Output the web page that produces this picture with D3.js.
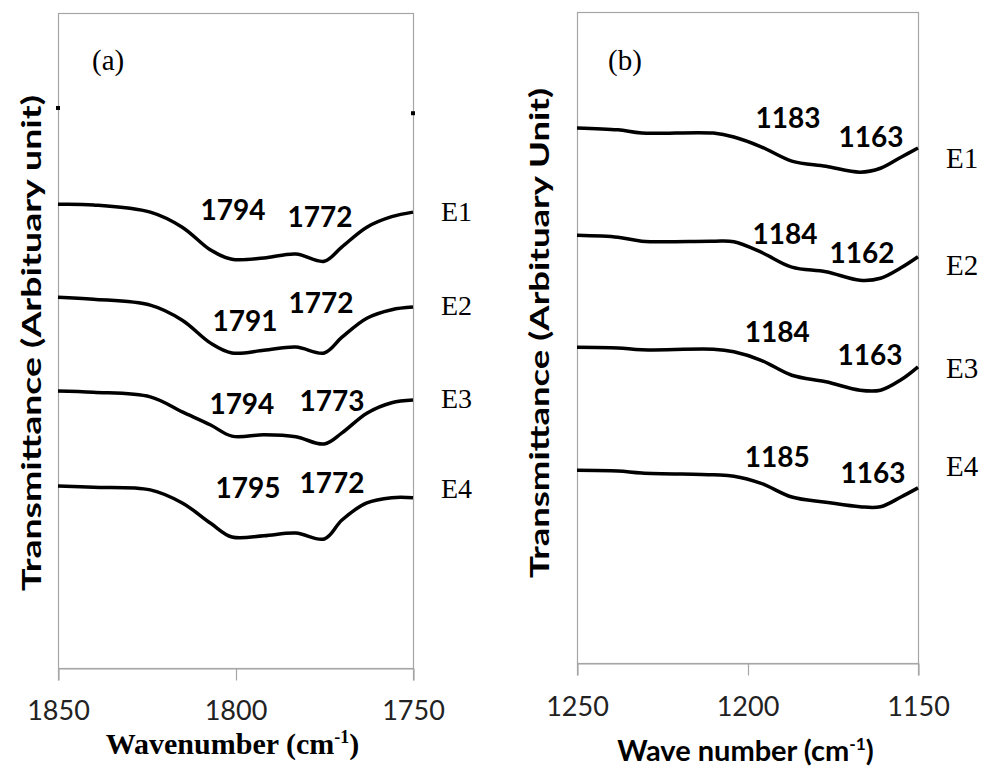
<!DOCTYPE html>
<html>
<head>
<meta charset="utf-8">
<script src="https://cdn.jsdelivr.net/npm/d3@7"></script>
<style>
    body { margin: 0; background: #ffffff; }
</style>
</head>
<body>
<svg id="chart" width="984" height="769"></svg>
<script>
// ---- panel (a): C=O region ----
const wavenumbersA = [1850, 1840, 1824, 1815, 1807, 1801, 1792, 1783, 1775, 1770, 1763, 1756, 1750];
const e1A = [70.8, 70.7, 69.6, 67.3, 63.8, 62.4, 62.6, 63.2, 62.1, 64.3, 67.3, 68.9, 69.6];
const e2A = [56.6, 56.3, 55.4, 53.1, 49.6, 48.1, 48.5, 49.0, 48.1, 50.5, 53.4, 54.7, 55.1];
const e3A = [42.3, 42.1, 41.4, 39.1, 37.1, 35.4, 35.6, 35.3, 34.2, 35.9, 38.9, 40.5, 40.9];
const e4A = [27.8, 27.6, 27.2, 25.2, 22.1, 20.0, 20.2, 20.6, 19.7, 22.6, 25.2, 26.0, 26.0];
const ticksA = [1850, 1800, 1750];
// [label, wavenumber, transmittance]
const peaksA = [
    ["1794", 1800.7, 68.4], ["1772", 1776.2, 67.3],
    ["1791", 1797.3, 51.5], ["1772", 1775.9, 54.2],
    ["1794", 1798.2, 38.8], ["1773", 1772.8, 39.2],
    ["1795", 1796.5, 26.0], ["1772", 1772.8, 26.7]
];
const seriesLevelsA = [68.2, 53.9, 39.7, 26.0];
const endMarksA = [[1850, 85.5], [1750, 84.7]];

// ---- panel (b): C-O region ----
const wavenumbersB = [1250, 1238, 1231, 1210, 1204, 1196, 1187, 1177, 1167, 1161, 1155, 1150];
const e1B = [82.2, 81.9, 81.4, 81.4, 80.8, 79.3, 77.1, 76.3, 75.4, 76.0, 77.7, 79.1];
const e2B = [65.7, 65.4, 64.8, 64.8, 64.7, 63.1, 60.8, 60.1, 58.8, 59.1, 60.7, 62.4];
const e3B = [48.5, 48.4, 48.1, 48.2, 47.8, 46.5, 44.2, 43.2, 41.9, 41.9, 43.5, 45.5];
const e4B = [29.6, 29.5, 29.2, 28.9, 28.7, 27.6, 25.5, 24.7, 24.0, 24.0, 25.5, 26.9];
const ticksB = [1250, 1200, 1150];
const peaksB = [
    ["1183", 1188.1, 82.2], ["1163", 1163.8, 79.3],
    ["1184", 1189.0, 64.4], ["1162", 1166.4, 61.4],
    ["1184", 1191.3, 49.3], ["1163", 1164.1, 45.8],
    ["1185", 1191.3, 30.1], ["1163", 1163.2, 27.6]
];
const seriesLevelsB = [76.0, 59.6, 43.8, 28.7];

const seriesNames = ["E1", "E2", "E3", "E4"];

const svg = d3.select("#chart");
svg.append("rect").attr("width", 984).attr("height", 769).attr("fill", "#ffffff");

const frameColor = "#a6a6a6";

const drawPanel = (panel) => {
    const x = d3.scaleLinear().domain(panel.xDomain).range([panel.left, panel.right]);
    const y = d3.scaleLinear().domain([0, 100]).range([panel.bottom, panel.top]);
    const g = svg.append("g");

    g.append("rect")
        .attr("x", panel.left + 0.5)
        .attr("y", panel.top + 0.5)
        .attr("width", panel.right - panel.left)
        .attr("height", panel.bottom - panel.top)
        .attr("fill", "none")
        .attr("stroke", frameColor)
        .attr("stroke-width", 1.2);

    const axis = g.append("g")
        .attr("transform", "translate(0," + (panel.bottom + 0.5) + ")")
        .call(d3.axisBottom(x)
            .tickValues(panel.ticks)
            .tickSize(12)
            .tickPadding(panel.tickPadding)
            .tickFormat(d3.format("d")));
    axis.select(".domain").attr("stroke", frameColor).attr("stroke-width", 1.2);
    axis.selectAll(".tick line").attr("stroke", frameColor).attr("stroke-width", 1.2)
        .attr("transform", "translate(0.5,0)");
    axis.selectAll(".tick text")
        .attr("fill", "#222")
        .style("font-family", "Lato")
        .style("font-size", "27px");

    const line = d3.line()
        .x((d, i) => x(panel.wavenumbers[i]))
        .y(d => y(d))
        .curve(d3.curveCatmullRom.alpha(0.5));

    g.selectAll("path.curve")
        .data(panel.series)
        .enter()
        .append("path")
        .attr("class", "curve")
        .attr("d", line)
        .attr("fill", "none")
        .attr("stroke", "#000")
        .attr("stroke-width", 3.5)
        .attr("stroke-linejoin", "round");

    g.selectAll("text.peak")
        .data(panel.peaks)
        .enter()
        .append("text")
        .attr("class", "peak")
        .attr("x", d => x(d[1]))
        .attr("y", d => y(d[2]))
        .attr("text-anchor", "middle")
        .style("font-family", "Lato")
        .style("font-weight", "bold")
        .style("font-size", "28px")
        .text(d => d[0]);

    g.selectAll("text.series")
        .data(panel.seriesLevels)
        .enter()
        .append("text")
        .attr("class", "series")
        .attr("x", panel.right + panel.seriesOffset)
        .attr("y", d => y(d))
        .style("font-family", "Liberation Serif")
        .style("font-size", panel.seriesFont)
        .text((d, i) => seriesNames[i]);

    g.selectAll("rect.mark")
        .data(panel.marks || [])
        .enter()
        .append("rect")
        .attr("class", "mark")
        .attr("x", d => x(d[0]) - 2)
        .attr("y", d => y(d[1]) - 2)
        .attr("width", 4)
        .attr("height", 4)
        .attr("fill", "#000");

    g.append("text")
        .attr("x", panel.left + panel.tagOffset)
        .attr("y", panel.tagY)
        .style("font-family", "Liberation Serif")
        .style("font-size", "29px")
        .text(panel.tag);

    g.append("text")
        .attr("transform", "translate(" + panel.yTitleX + "," + panel.yTitleY + ") rotate(-90)")
        .attr("text-anchor", "middle")
        .attr("textLength", panel.yTitleLength)
        .attr("lengthAdjust", "spacingAndGlyphs")
        .style("font-family", "Lato")
        .style("font-weight", "bold")
        .style("font-size", panel.yTitleFont)
        .text(panel.yTitle);

    const xTitle = g.append("text")
        .attr("x", (panel.left + panel.right) / 2 + panel.xTitleShift)
        .attr("y", panel.xTitleY)
        .attr("text-anchor", "middle")
        .style("font-family", panel.xTitleFamily)
        .style("font-weight", "bold")
        .style("font-size", panel.xTitleFont);
    xTitle.append("tspan").text(panel.xTitle + " (cm");
    xTitle.append("tspan").attr("dy", -11).style("font-size", "0.6em").text("-1");
    xTitle.append("tspan").attr("dy", 11).text(")");
};

drawPanel({
    left: 58, right: 413, top: 13, bottom: 668,
    xDomain: [1850, 1750],
    ticks: ticksA,
    tickPadding: 20,
    wavenumbers: wavenumbersA,
    series: [e1A, e2A, e3A, e4A],
    peaks: peaksA,
    seriesLevels: seriesLevelsA,
    seriesOffset: 28,
    seriesFont: "28px",
    marks: endMarksA,
    tag: "(a)", tagOffset: 34, tagY: 70,
    yTitle: "Transmittance (Arbituary unit)",
    yTitleX: 41, yTitleY: 343, yTitleLength: 496, yTitleFont: "27px",
    xTitle: "Wavenumber", xTitleFamily: "Liberation Serif", xTitleFont: "30px",
    xTitleShift: -3, xTitleY: 754
});

drawPanel({
    left: 577, right: 918, top: 12, bottom: 663,
    xDomain: [1250, 1150],
    ticks: ticksB,
    tickPadding: 21,
    wavenumbers: wavenumbersB,
    series: [e1B, e2B, e3B, e4B],
    peaks: peaksB,
    seriesLevels: seriesLevelsB,
    seriesOffset: 28,
    seriesFont: "29px",
    tag: "(b)", tagOffset: 31, tagY: 70,
    yTitle: "Transmittance (Arbituary Unit)",
    yTitleX: 549, yTitleY: 333, yTitleLength: 490, yTitleFont: "27px",
    xTitle: "Wave number", xTitleFamily: "Lato", xTitleFont: "29px",
    xTitleShift: -2, xTitleY: 761
});
</script>
</body>
</html>
